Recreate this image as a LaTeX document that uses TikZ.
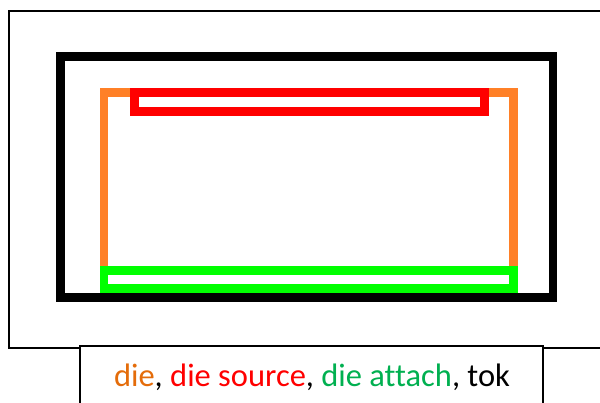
\documentclass[tikz,border=0pt]{standalone}
\usepackage{fontspec}
\setmainfont[Ligatures=NoCommon]{Carlito}
\definecolor{dieorange}{HTML}{FF8027}
\definecolor{diered}{HTML}{FF0000}
\definecolor{diegreen}{HTML}{00FF00}
\definecolor{txtorange}{HTML}{E46C0A}
\definecolor{txtgreen}{HTML}{00B050}
\tikzset{
  frame/.style={draw=black, line width=1.4pt},
  thickbox/.style={line width=8.8pt, line join=miter},
  caption/.style={font=\fontsize{32.5}{38}\selectfont, inner sep=0pt, anchor=base}
}
\begin{document}
\begin{tikzpicture}[x=1pt,y=-1pt]
\useasboundingbox (0,0) rectangle (600,403);
\clip (0,0) rectangle (600,403);
\fill[white] (0,0) rectangle (600,403);
% outer frame
\draw[frame] (9,11) rectangle (620,348);
% caption box
\draw[draw=black, line width=1.2pt, fill=white] (80,346) rectangle (543,420);
% tok
\draw[thickbox, draw=black] (60.2,56.5) rectangle (553,297.5);
% die
\draw[thickbox, draw=dieorange] (104,92.5) rectangle (513.5,270);
% die source
\draw[thickbox, draw=diered] (134.5,92.5) rectangle (484.8,111.5);
% die attach
\draw[thickbox, draw=diegreen] (104,270.5) rectangle (513.5,288.8);
\node[caption] (cap) at (312,386) {\textcolor{txtorange}{die}, \textcolor{diered}{die source}, \textcolor{txtgreen}{die attach}, tok};
\end{tikzpicture}
\end{document}
